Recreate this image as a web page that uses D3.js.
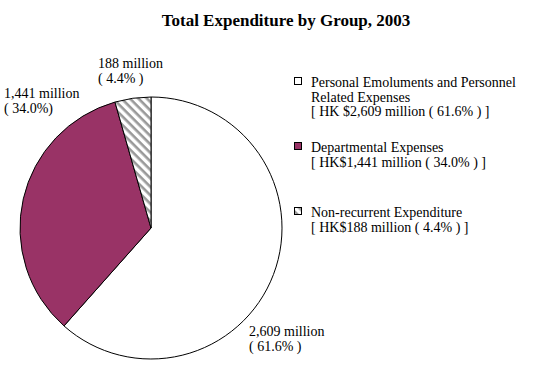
<!DOCTYPE html>
<html>
<head>
<meta charset="utf-8">
<script src="https://cdn.jsdelivr.net/npm/d3@7"></script>
<style>
  html, body { margin: 0; padding: 0; background: #fff; }
  text { font-family: "Liberation Serif", "Times New Roman", serif; fill: #000; }
</style>
</head>
<body>
<div id="chart"></div>
<script>
// chart data
const categories = ['Personal Emoluments and Personnel Related Expenses', 'Departmental Expenses', 'Non-recurrent Expenditure'];
const values = [2609, 1441, 188];
const percents = ['61.6', '34.0', '4.4'];
const fills = ['#ffffff', '#993366', 'url(#hatch)'];
const legendLines = [
    ['Personal Emoluments and Personnel', 'Related Expenses', '[ HK $2,609 million ( 61.6% ) ]'],
    ['Departmental Expenses', '[ HK$1,441 million ( 34.0% ) ]'],
    ['Non-recurrent Expenditure', '[ HK$188 million ( 4.4% ) ]']
];
const sliceLabels = [
    ['2,609 million', '( 61.6% )'],
    ['1,441 million', '( 34.0%)'],
    ['188 million', '( 4.4% )']
];

const width = 538, height = 369;
const cx = 151, cy = 228, radius = 131;

const svg = d3.select('#chart')
    .append('svg')
    .attr('width', width)
    .attr('height', height);

const defs = svg.append('defs');
const pat = defs.append('pattern')
    .attr('id', 'hatch')
    .attr('patternUnits', 'userSpaceOnUse')
    .attr('width', 6)
    .attr('height', 6)
    .attr('patternTransform', 'rotate(45)');
pat.append('rect').attr('width', 6).attr('height', 6).attr('fill', '#fff');
pat.append('rect').attr('width', 6).attr('height', 2.6).attr('fill', '#999');

svg.append('text')
    .attr('x', 286)
    .attr('y', 26)
    .attr('text-anchor', 'middle')
    .style('font-size', '17px')
    .style('font-weight', 'bold')
    .text('Total Expenditure by Group, 2003');

const pie = d3.pie().sort(null).value(d => d);
const arc = d3.arc().innerRadius(0).outerRadius(radius);

const g = svg.append('g').attr('transform', `translate(${cx},${cy})`);
g.selectAll('path')
    .data(pie(values))
    .join('path')
    .attr('d', arc)
    .attr('fill', (d, i) => fills[i])
    .attr('stroke', '#000')
    .attr('stroke-width', 1);

// slice labels
const labelPos = [[249, 336], [4, 98], [98, 68]];
sliceLabels.forEach((lines, i) => {
    const t = svg.append('text')
        .attr('x', labelPos[i][0])
        .attr('y', labelPos[i][1])
        .style('font-size', '14px');
    lines.forEach((s, j) => {
        t.append('tspan')
            .attr('x', labelPos[i][0])
            .attr('dy', j === 0 ? 0 : 15)
            .text(s);
    });
});

// legend
const legendY = [87, 152, 217];
const lg = svg.append('g');
legendLines.forEach((lines, i) => {
    lg.append('rect')
        .attr('x', 294.5)
        .attr('y', legendY[i] - 9.5)
        .attr('width', 7)
        .attr('height', 7)
        .attr('fill', fills[i])
        .attr('stroke', '#000')
        .attr('stroke-width', 1);
    const t = lg.append('text')
        .attr('x', 311)
        .attr('y', legendY[i])
        .style('font-size', '14px');
    lines.forEach((s, j) => {
        t.append('tspan')
            .attr('x', 311)
            .attr('dy', j === 0 ? 0 : 14.5)
            .text(s);
    });
});
</script>
</body>
</html>
